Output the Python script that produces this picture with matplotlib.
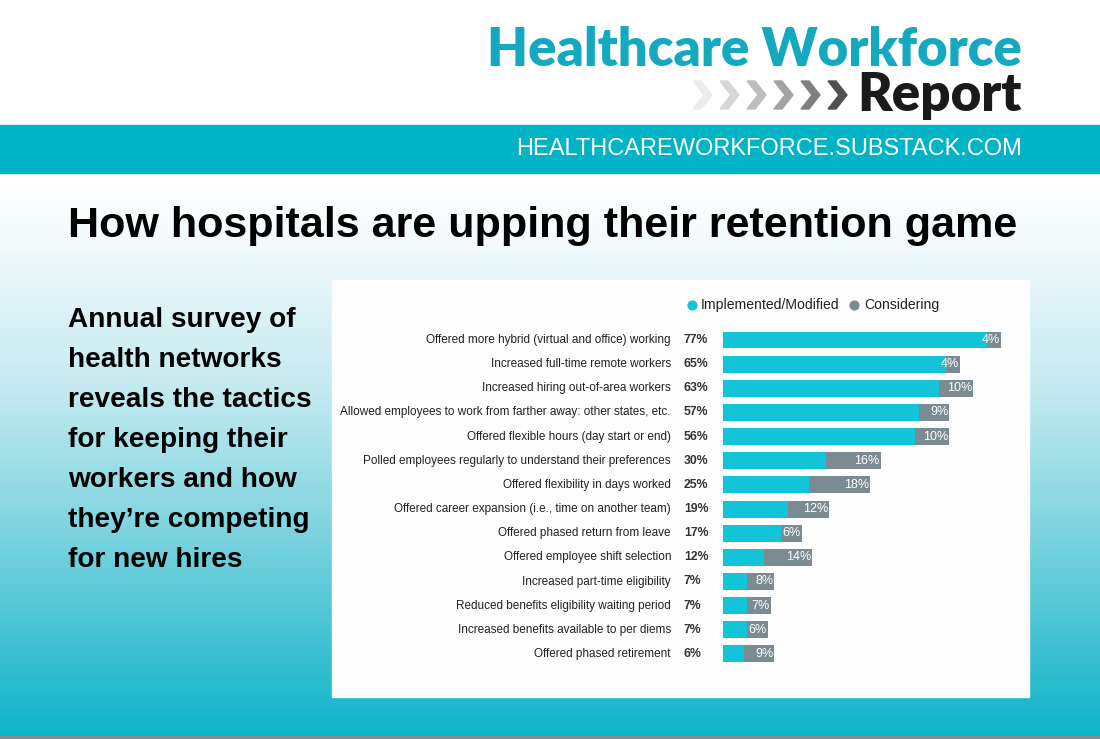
import matplotlib
matplotlib.use("Agg")
import matplotlib.pyplot as plt
import numpy as np
from matplotlib.patches import Rectangle, Polygon
from matplotlib.colors import LinearSegmentedColormap

categories = [
    "Offered more hybrid (virtual and office) working",
    "Increased full-time remote workers",
    "Increased hiring out-of-area workers",
    "Allowed employees to work from farther away: other states, etc.",
    "Offered flexible hours (day start or end)",
    "Polled employees regularly to understand their preferences",
    "Offered flexibility in days worked",
    "Offered career expansion (i.e., time on another team)",
    "Offered phased return from leave",
    "Offered employee shift selection",
    "Increased part-time eligibility",
    "Reduced benefits eligibility waiting period",
    "Increased benefits available to per diems",
    "Offered phased retirement",
]
implemented = [77, 65, 63, 57, 56, 30, 25, 19, 17, 12, 7, 7, 7, 6]
considering = [4, 4, 10, 9, 10, 16, 18, 12, 6, 14, 8, 7, 6, 9]
series_names = ["Implemented/Modified", "Considering"]

title = "How hospitals are upping their retention game"
subtitle_lines = ["Annual survey of", "health networks", "reveals the tactics",
                  "for keeping their", "workers and how", "they\u2019re competing",
                  "for new hires"]

W, H = 1100, 739
TEAL_BAR = "#13c4d8"
GRAY_BAR = "#7c8a92"
BAND = "#00b3c6"
LOGO = "#14a9be"
FONT = ["Liberation Sans", "DejaVu Sans"]

fig = plt.figure(figsize=(W / 100, H / 100), dpi=100)

def fx(x):
    return x / W

def fy(y):
    return 1 - y / H

# background gradient
bg = fig.add_axes([0, 0, 1, 1])
bg.set_xlim(0, W)
bg.set_ylim(H, 0)
bg.axis("off")
cmap = LinearSegmentedColormap.from_list(
    "g", [(0.0, "#ffffff"), (0.12, "#f2fafc"), (0.38, "#c3eaf0"),
          (0.65, "#78d2de"), (1.0, "#0cb4c8")])
grad = np.linspace(0, 1, 400).reshape(-1, 1)
bg.imshow(grad, cmap=cmap, extent=[0, W, 739, 175], aspect="auto", zorder=0)
bg.add_patch(Rectangle((0, 0), W, 125, color="white", zorder=1))
bg.add_patch(Rectangle((0, 125), W, 48, color=BAND, zorder=1))
bg.add_patch(Rectangle((0, 736), W, 3, color="#8c8c8c", zorder=1))
# chart panel
bg.add_patch(Rectangle((332, 280), 697, 417, color="#fdfdfd", zorder=1))

# chevrons
chev_colors = ["#ececec", "#d6d6d6", "#bdbdbd", "#a3a3a3", "#7f7f7f", "#505050"]
for i, c in enumerate(chev_colors):
    x0 = 693 + i * 27
    pts = [(x0, 81), (x0 + 8, 81), (x0 + 19, 95), (x0 + 8, 109), (x0, 109), (x0 + 11, 95)]
    bg.add_patch(Polygon(pts, closed=True, color=c, zorder=2))

bg.text(1022, 50, "Healthcare Workforce", ha="right", va="center", fontsize=38,
        fontweight="heavy", color=LOGO, family=["Lato", "DejaVu Sans"], zorder=3)
bg.text(1022, 95, "Report", ha="right", va="center", fontsize=38,
        fontweight="heavy", color="#1a1a1a", family=["Lato", "DejaVu Sans"], zorder=3)
bg.text(1022, 149, "HEALTHCAREWORKFORCE.SUBSTACK.COM", ha="right", va="center",
        fontsize=17, color="white", family=FONT, zorder=3)
bg.text(68, 226, title, ha="left", va="center", fontsize=31.1, fontweight="bold",
        color="black", family=FONT, zorder=3)
for i, line in enumerate(subtitle_lines):
    bg.text(68, 320 + 40 * i, line, ha="left", va="center", fontsize=20.2,
            fontweight="bold", color="black", family=FONT, zorder=3)

# legend
bg.scatter([692], [305], s=40, color=TEAL_BAR, zorder=3)
bg.text(701, 305, series_names[0], ha="left", va="center", fontsize=10.1,
        color="#222222", family=FONT, zorder=3)
bg.scatter([854], [305], s=40, color=GRAY_BAR, zorder=3)
bg.text(864, 305, series_names[1], ha="left", va="center", fontsize=10.1,
        color="#222222", family=FONT, zorder=3)

# bar chart axes
px_per = 3.43
x_left = 723
xmax = 88
n = len(categories)
row = 24.15
top = 340 - row / 2
ax = fig.add_axes([fx(x_left), fy(top + n * row), xmax * px_per / W, n * row / H])
ax.set_xlim(0, xmax)
ax.set_ylim(n - 0.5, -0.5)
ax.axis("off")
ax.patch.set_alpha(0)
ypos = np.arange(n)
ax.barh(ypos, implemented, height=0.7, color=TEAL_BAR)
ax.barh(ypos, considering, left=implemented, height=0.7, color=GRAY_BAR)
for i in range(n):
    ax.text((671 - x_left) / px_per, i, categories[i], ha="right", va="center",
            fontsize=8.5, color="#222222", family=FONT)
    ax.text((684 - x_left) / px_per, i, f"{implemented[i]}%", ha="left", va="center",
            fontsize=8.8, fontweight="bold", color="#333333", family=FONT)
    ax.text(implemented[i] + considering[i] - 0.3, i, f"{considering[i]}%", ha="right",
            va="center", fontsize=9, color="white", family=FONT)

fig.savefig("out.png", dpi=100)
